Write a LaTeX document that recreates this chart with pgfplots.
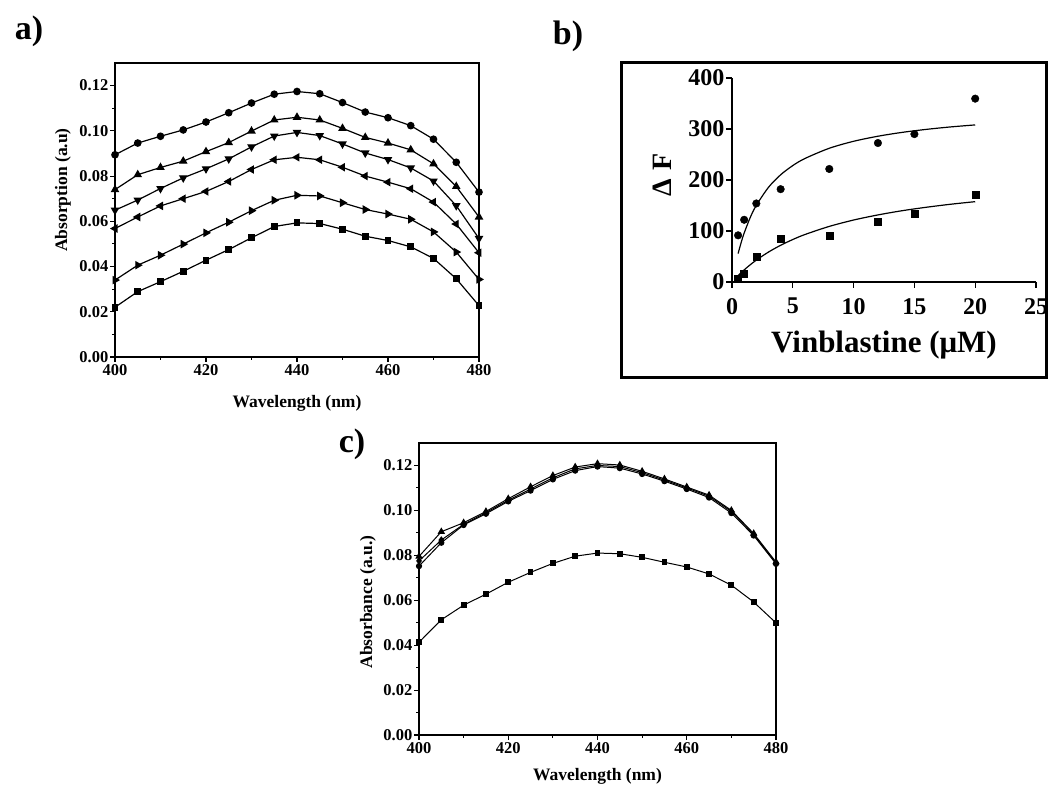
\documentclass[border=0pt]{standalone}
\usepackage{fontspec}
\setmainfont{Liberation Serif}
\usepackage{pgfplots}
\pgfplotsset{compat=1.18}
\begin{document}
\begin{tikzpicture}
\path[use as bounding box] (0pt,0pt) rectangle (1049pt,786pt);
% ---------------- panel a ----------------
\begin{axis}[at={(115pt,429pt)}, anchor=south west, scale only axis,
  width=364pt, height=294pt,
  xmin=400, xmax=480, ymin=0, ymax=0.13,
  xtick={400,420,440,460,480}, xticklabels={400,420,440,460,480},
  ytick={0,0.02,0.04,0.06,0.08,0.10,0.12},
  yticklabels={0.00,0.02,0.04,0.06,0.08,0.10,0.12},
  minor xtick={410,430,450,470},
  minor ytick={0.01,0.03,0.05,0.07,0.09,0.11},
  tick align=outside, xtick pos=bottom, ytick pos=left,
  major tick length=5pt, minor tick length=3pt,
  every tick/.style={black, line width=1.1pt},
  axis line style={line width=1.3pt},
  tick label style={font=\fontsize{16.5}{18}\selectfont\bfseries},
  yticklabel style={inner sep=1.5pt},
  xticklabel style={inner sep=2pt},
  xlabel={Wavelength (nm)}, ylabel={Absorption (a.u)},
  label style={font=\fontsize{17.5}{19}\selectfont\bfseries},
  xlabel style={at={(axis description cs:0.5,0)}, anchor=north, yshift=-35pt},
  ylabel style={at={(axis description cs:-0.143,0.568)}, anchor=center},
  clip=false]
\addplot[black, line width=1.2pt, mark=*, mark size=3.2pt, mark options={solid, fill=black}] coordinates {
(400,0.0894)(405,0.0946)(410,0.0976)(415,0.1004)(420,0.1039)(425,0.1080)(430,0.1123)(435,0.1162)(440,0.1174)(445,0.1164)(450,0.1125)(455,0.1083)(460,0.1058)(465,0.1023)(470,0.0963)(475,0.0861)(480,0.0729)};
\addplot[black, line width=1.2pt, mark=triangle*, mark size=3.8pt, mark options={solid, fill=black}] coordinates {
(400,0.0740)(405,0.0806)(410,0.0838)(415,0.0866)(420,0.0908)(425,0.0948)(430,0.0999)(435,0.1048)(440,0.1060)(445,0.1048)(450,0.1011)(455,0.0971)(460,0.0946)(465,0.0916)(470,0.0854)(475,0.0754)(480,0.0619)};
\addplot[black, line width=1.2pt, mark=triangle*, mark size=3.8pt, mark options={solid, fill=black, rotate=180}] coordinates {
(400,0.0649)(405,0.0694)(410,0.0745)(415,0.0792)(420,0.0832)(425,0.0876)(430,0.0929)(435,0.0977)(440,0.0993)(445,0.0979)(450,0.0942)(455,0.0902)(460,0.0873)(465,0.0836)(470,0.0778)(475,0.0669)(480,0.0524)};
\addplot[black, line width=1.2pt, mark=triangle*, mark size=3.8pt, mark options={solid, fill=black, rotate=90}] coordinates {
(400,0.0568)(405,0.0619)(410,0.0668)(415,0.0700)(420,0.0732)(425,0.0776)(430,0.0829)(435,0.0872)(440,0.0883)(445,0.0872)(450,0.0839)(455,0.0800)(460,0.0773)(465,0.0744)(470,0.0685)(475,0.0588)(480,0.0461)};
\addplot[black, line width=1.2pt, mark=triangle*, mark size=3.8pt, mark options={solid, fill=black, rotate=-90}] coordinates {
(400,0.0340)(405,0.0406)(410,0.0450)(415,0.0499)(420,0.0549)(425,0.0596)(430,0.0647)(435,0.0693)(440,0.0715)(445,0.0712)(450,0.0682)(455,0.0652)(460,0.0632)(465,0.0609)(470,0.0553)(475,0.0464)(480,0.0343)};
\addplot[black, line width=1.2pt, mark=square*, mark size=2.8pt, mark options={solid, fill=black}] coordinates {
(400,0.0220)(405,0.0289)(410,0.0333)(415,0.0379)(420,0.0428)(425,0.0475)(430,0.0527)(435,0.0577)(440,0.0593)(445,0.0590)(450,0.0565)(455,0.0534)(460,0.0515)(465,0.0487)(470,0.0436)(475,0.0346)(480,0.0227)};
\end{axis}
% ---------------- panel b ----------------
\draw[line width=3pt] (621pt,723pt) rectangle (1046pt,408pt);
\begin{axis}[at={(732pt,504pt)}, anchor=south west, scale only axis,
  width=304pt, height=204pt,
  xmin=0, xmax=25, ymin=0, ymax=400,
  axis x line*=bottom, axis y line*=left,
  axis line style={line width=1.5pt, -},
  xtick={0,5,10,15,20,25}, xticklabels={0,5,10,15,20,25},
  ytick={0,100,200,300,400}, yticklabels={0,100,200,300,400},
  tick align=outside, major tick length=6pt,
  every tick/.style={black, line width=1.3pt},
  tick label style={font=\fontsize{24}{26}\selectfont\bfseries},
  yticklabel style={inner sep=1.5pt},
  xticklabel style={inner sep=2pt, yshift=-8pt},
  xlabel={Vinblastine (μM)}, ylabel={Δ\,\,F},
  xlabel style={font=\fontsize{31}{33}\selectfont\bfseries, at={(axis description cs:0.5,0)}, anchor=center, yshift=-63pt},
  ylabel style={font=\fontsize{28}{30}\selectfont\bfseries, at={(axis description cs:-0.23,0.525)}, anchor=center},
  clip=false]
\addplot[only marks, mark=*, mark size=3.8pt, black] coordinates {
(0.5,91.5)(1,122)(2,154)(4,182)(8,221.6)(12,272.5)(15,290)(20,359.5)};
\addplot[only marks, mark=square*, mark size=3.5pt, black] coordinates {
(0.5,5.9)(1,17)(2,49)(4,84)(8,91)(12,118)(15,133)(20,170.6)};
\addplot[smooth, black, line width=1.2pt] coordinates {
(0.5,55.6)(0.75,77.2)(1,95.9)(1.5,126.5)(2,150.4)(3,185.6)(4,210.2)(5,228.3)(6,242.2)(8,262.2)(10,275.9)(12,285.8)(14,293.4)(16,299.3)(18,304.1)(20,308.0)};
\addplot[smooth, black, line width=1.2pt] coordinates {
(0.5,12.5)(1,23.7)(1.5,33.8)(2,42.9)(3,58.7)(4,72.0)(5,83.3)(6,93.1)(8,109.0)(10,121.5)(12,131.5)(14,139.8)(16,146.6)(18,152.5)(20,157.5)};
\end{axis}
% ---------------- panel c ----------------
\begin{axis}[at={(419pt,51pt)}, anchor=south west, scale only axis,
  width=357pt, height=292pt,
  xmin=400, xmax=480, ymin=0, ymax=0.13,
  xtick={400,420,440,460,480}, xticklabels={400,420,440,460,480},
  ytick={0,0.02,0.04,0.06,0.08,0.10,0.12},
  yticklabels={0.00,0.02,0.04,0.06,0.08,0.10,0.12},
  minor xtick={410,430,450,470},
  minor ytick={0.01,0.03,0.05,0.07,0.09,0.11},
  tick align=outside, xtick pos=bottom, ytick pos=left,
  major tick length=5pt, minor tick length=3pt,
  every tick/.style={black, line width=1.1pt},
  axis line style={line width=1.3pt},
  tick label style={font=\fontsize{16.5}{18}\selectfont\bfseries},
  yticklabel style={inner sep=1.5pt},
  xticklabel style={inner sep=2pt},
  xlabel={Wavelength (nm)}, ylabel={Absorbance (a.u.)},
  label style={font=\fontsize{17.5}{19}\selectfont\bfseries},
  xlabel style={at={(axis description cs:0.5,0)}, anchor=north, yshift=-30pt},
  ylabel style={at={(axis description cs:-0.143,0.455)}, anchor=center},
  clip=false]
\addplot[black, line width=1.0pt, mark=*, mark size=2.6pt, mark options={solid, fill=black}] coordinates {
(400,0.0752)(405,0.0856)(410,0.0935)(415,0.0985)(420,0.1040)(425,0.1088)(430,0.1138)(435,0.1177)(440,0.1195)(445,0.1188)(450,0.1162)(455,0.1130)(460,0.1095)(465,0.1057)(470,0.0988)(475,0.0888)(480,0.0762)};
\addplot[black, line width=1.0pt, mark=diamond*, mark size=3pt, mark options={solid, fill=black}] coordinates {
(400,0.0775)(405,0.0868)(410,0.0938)(415,0.0990)(420,0.1045)(425,0.1095)(430,0.1145)(435,0.1185)(440,0.1200)(445,0.1195)(450,0.1168)(455,0.1135)(460,0.1100)(465,0.1063)(470,0.0995)(475,0.0893)(480,0.0766)};
\addplot[black, line width=1.0pt, mark=triangle*, mark size=3.3pt, mark options={solid, fill=black}] coordinates {
(400,0.0795)(405,0.0905)(410,0.0945)(415,0.0995)(420,0.1052)(425,0.1105)(430,0.1155)(435,0.1193)(440,0.1208)(445,0.1202)(450,0.1174)(455,0.1140)(460,0.1104)(465,0.1068)(470,0.1000)(475,0.0897)(480,0.0770)};
\addplot[black, line width=1.0pt, mark=square*, mark size=2.4pt, mark options={solid, fill=black}] coordinates {
(400,0.0413)(405,0.0513)(410,0.0578)(415,0.0627)(420,0.0680)(425,0.0724)(430,0.0764)(435,0.0796)(440,0.0810)(445,0.0807)(450,0.0791)(455,0.0769)(460,0.0748)(465,0.0717)(470,0.0667)(475,0.0592)(480,0.0499)};
\end{axis}
% ---------------- panel labels ----------------
\node[font=\fontsize{34}{36}\selectfont\bfseries] at (29pt,755pt) {a)};
\node[font=\fontsize{34}{36}\selectfont\bfseries] at (568pt,750pt) {b)};
\node[font=\fontsize{34}{36}\selectfont\bfseries] at (352pt,342pt) {c)};
\end{tikzpicture}
\end{document}
